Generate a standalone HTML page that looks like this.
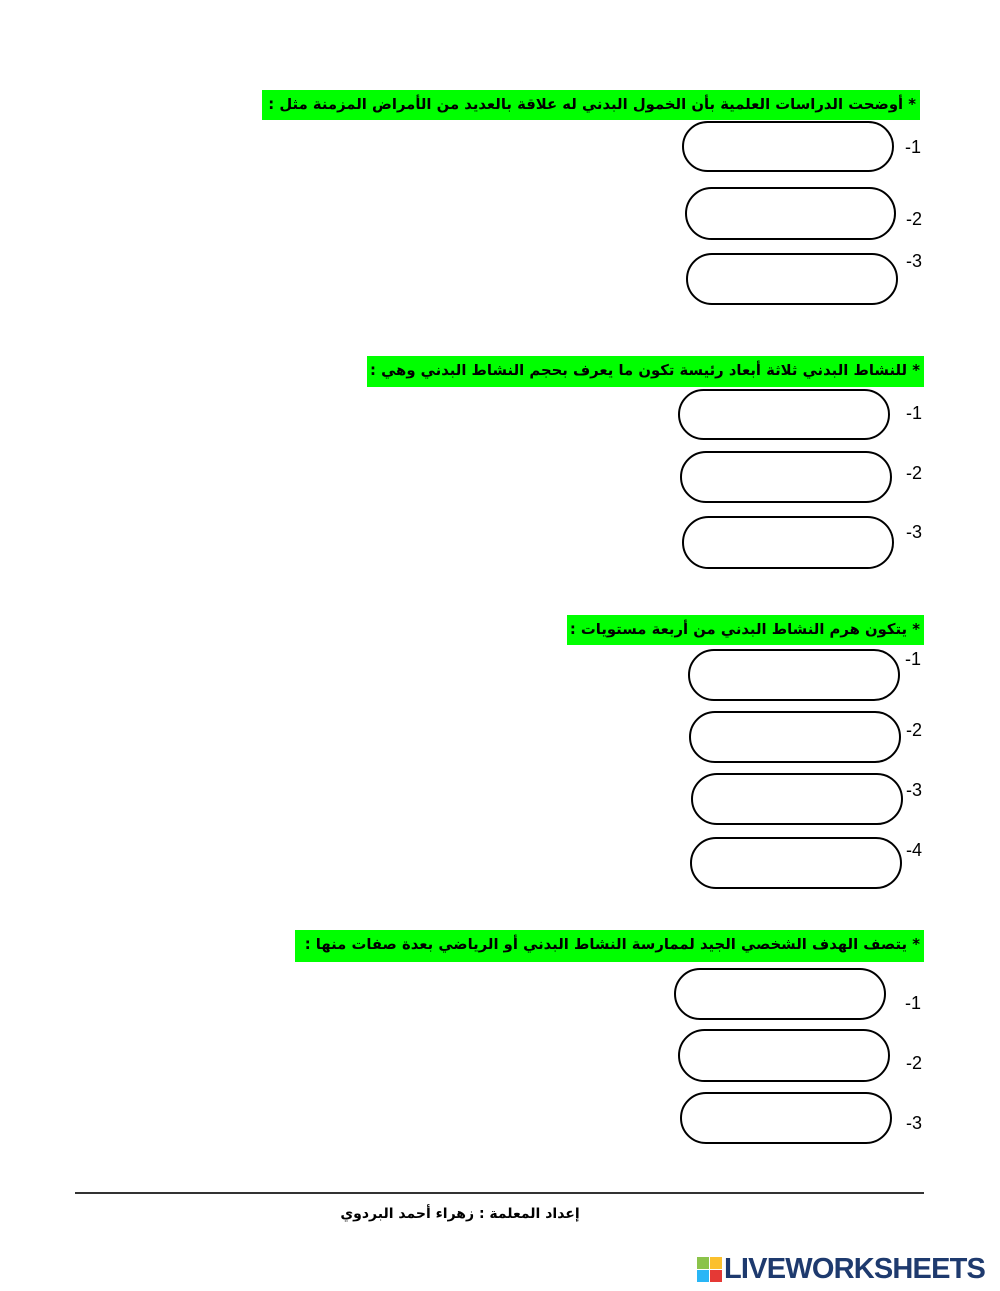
<!DOCTYPE html>
<html><head><meta charset="utf-8"><style>
body{margin:0;width:1000px;height:1291px;background:#fff;position:relative;overflow:hidden;font-family:"DejaVu Sans","Liberation Sans",sans-serif}
.g{position:absolute;background:#00ff00;direction:rtl;font-weight:bold;font-size:14.8px;line-height:30px;white-space:nowrap;overflow:hidden;padding-right:4px;box-sizing:border-box;color:#000;letter-spacing:-0.2px}
.p{position:absolute;border:2px solid #000;border-radius:27px;box-sizing:border-box;background:#fff}
.n{position:absolute;font-family:"Liberation Sans",sans-serif;font-size:18px;color:#000}
</style></head><body>
<div class="g" style="left:262px;top:90px;width:658px;height:30px">* أوضحت الدراسات العلمية بأن الخمول البدني له علاقة بالعديد من الأمراض المزمنة مثل :</div>
<div class="p" style="left:682px;top:121px;width:212px;height:51px"></div>
<div class="p" style="left:685px;top:187px;width:211px;height:53px"></div>
<div class="p" style="left:686px;top:253px;width:212px;height:52px"></div>
<div class="n" style="left:905px;top:137px">-1</div>
<div class="n" style="left:906px;top:209px">-2</div>
<div class="n" style="left:906px;top:251px">-3</div>

<div class="g" style="left:367px;top:356px;width:557px;height:31px">* للنشاط البدني ثلاثة أبعاد رئيسة تكون ما يعرف بحجم النشاط البدني وهي :</div>
<div class="p" style="left:678px;top:389px;width:212px;height:51px"></div>
<div class="p" style="left:680px;top:451px;width:212px;height:52px"></div>
<div class="p" style="left:682px;top:516px;width:212px;height:53px"></div>
<div class="n" style="left:906px;top:403px">-1</div>
<div class="n" style="left:906px;top:463px">-2</div>
<div class="n" style="left:906px;top:522px">-3</div>

<div class="g" style="left:567px;top:615px;width:357px;height:30px">* يتكون هرم النشاط البدني من أربعة مستويات :</div>
<div class="p" style="left:688px;top:649px;width:212px;height:52px"></div>
<div class="p" style="left:689px;top:711px;width:212px;height:52px"></div>
<div class="p" style="left:691px;top:773px;width:212px;height:52px"></div>
<div class="p" style="left:690px;top:837px;width:212px;height:52px"></div>
<div class="n" style="left:905px;top:649px">-1</div>
<div class="n" style="left:906px;top:720px">-2</div>
<div class="n" style="left:906px;top:780px">-3</div>
<div class="n" style="left:906px;top:840px">-4</div>

<div class="g" style="left:295px;top:930px;width:629px;height:32px">* يتصف الهدف الشخصي الجيد لممارسة النشاط البدني أو الرياضي بعدة صفات منها :</div>
<div class="p" style="left:674px;top:968px;width:212px;height:52px"></div>
<div class="p" style="left:678px;top:1029px;width:212px;height:53px"></div>
<div class="p" style="left:680px;top:1092px;width:212px;height:52px"></div>
<div class="n" style="left:905px;top:993px">-1</div>
<div class="n" style="left:906px;top:1053px">-2</div>
<div class="n" style="left:906px;top:1113px">-3</div>

<div style="position:absolute;left:75px;top:1192px;width:849px;height:2px;background:#333"></div>
<div style="position:absolute;left:330px;top:1206px;width:260px;text-align:center;direction:rtl;font-weight:bold;font-size:14px">إعداد المعلمة : زهراء أحمد البردوي</div>

<div style="position:absolute;left:697px;top:1257px;width:26px;height:26px">
<div style="position:absolute;left:0;top:0;width:12px;height:12px;background:#8bc34a"></div>
<div style="position:absolute;left:13px;top:0;width:12px;height:12px;background:#fbc02d"></div>
<div style="position:absolute;left:0;top:13px;width:12px;height:12px;background:#29b6f6"></div>
<div style="position:absolute;left:13px;top:13px;width:12px;height:12px;background:#e53935"></div>
</div>
<div style="position:absolute;left:724px;top:1252px;width:274px;overflow:hidden;white-space:nowrap;font-family:'Liberation Sans',sans-serif;font-weight:bold;font-size:29px;color:#1e3a6e;letter-spacing:-0.8px;line-height:35px">LIVEWORKSHEETS</div>
</body></html>
